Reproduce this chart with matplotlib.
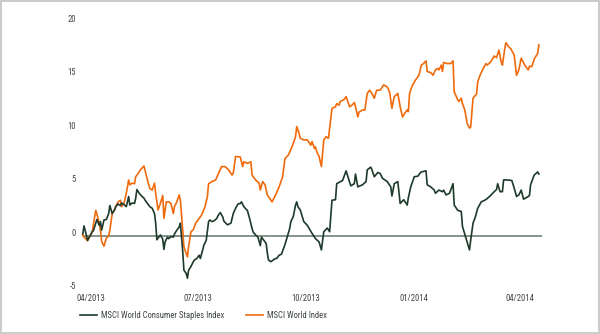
import matplotlib.pyplot as plt
import matplotlib.transforms as mtransforms
from matplotlib import font_manager as fm
import pandas as pd
from matplotlib.patches import Rectangle

# Performance (%) since late March 2013
# days are offsets from 2013-04-01
base = pd.Timestamp("2013-04-01")

staples_days = [
    -7, -6, -4, -3, -1, 1, 2, 4, 5, 7,
    8, 9, 11, 13, 15, 16, 18, 20, 21, 23,
    25, 26, 28, 30, 32, 33, 35, 37, 38, 39,
    41, 43, 45, 46, 48, 50, 52, 54, 55, 56,
    58, 59, 61, 62, 63, 65, 66, 68, 70, 71,
    73, 75, 76, 78, 79, 81, 82, 83, 85, 87,
    88, 90, 92, 93, 95, 96, 98, 100, 101, 103,
    105, 107, 108, 110, 112, 113, 116, 119, 121, 123,
    125, 127, 128, 130, 132, 133, 135, 137, 138, 140,
    142, 144, 145, 147, 149, 150, 151, 153, 155, 157,
    158, 160, 162, 163, 165, 167, 169, 170, 172, 174,
    175, 176, 178, 181, 184, 188, 191, 194, 196, 198,
    201, 203, 205, 208, 209, 214, 217, 221, 224, 225,
    227, 231, 234, 235, 238, 239, 241, 244, 246, 248,
    252, 255, 256, 258, 261, 263, 266, 269, 270, 272,
    275, 278, 280, 281, 285, 286, 289, 292, 293, 296,
    299, 300, 302, 305, 308, 309, 312, 315, 316, 319,
    322, 323, 325, 327, 329, 332, 335, 337, 340, 343,
    345, 346, 348, 350, 351, 354, 358, 360, 362, 364,
    366, 368, 372, 373, 374, 377, 380, 381,
]
staples = [
    0.2, 0.95, 0.1, -0.4, 0.0, 0.4, 0.5, 1.2, 1.55, 1.0,
    1.35, 0.55, 1.5, 1.55, 2.1, 2.85, 2.1, 2.45, 2.75, 3.0,
    2.85, 3.1, 2.95, 2.75, 3.7, 2.9, 3.1, 3.05, 3.55, 4.35,
    4.0, 3.75, 3.55, 3.35, 3.05, 2.75, 2.6, 2.1, 1.2, -0.35,
    -0.05, 0.1, -0.3, -1.25, -0.55, -0.1, -0.25, -0.05, -0.1, 0.2,
    0.55, 0.85, 1.2, -1.45, -3.2, -3.5, -3.95, -3.2, -2.85, -2.4,
    -2.25, -2.1, -1.8, -2.1, -1.3, -0.85, -0.4, 1.35, 1.5, 1.35,
    1.45, 1.65, 1.9, 2.2, 1.8, 1.4, 1.05, 1.2, 2.1, 2.6,
    3.0, 3.05, 3.2, 2.75, 2.5, 2.4, 1.6, 0.7, 0.35, 0.1,
    -0.1, -0.9, -0.1, -0.4, -0.7, -1.6, -2.25, -2.4, -2.25, -2.1,
    -2.1, -1.8, -1.7, -1.4, -0.8, -0.05, 0.7, 1.35, 1.8, 2.9,
    3.2, 2.75, 2.45, 1.35, 1.0, 0.25, -0.25, -0.55, -1.3, 0.4,
    0.75, 0.4, 3.35, 3.4, 4.9, 5.2, 6.1, 4.7, 4.9, 5.8,
    4.6, 4.8, 5.1, 6.2, 6.45, 6.2, 5.55, 5.95, 5.85, 5.4,
    5.1, 4.6, 3.75, 4.9, 5.1, 3.05, 3.4, 2.9, 3.6, 4.6,
    5.55, 5.6, 5.9, 6.0, 6.1, 4.8, 4.6, 4.3, 4.0, 4.3,
    4.15, 4.3, 3.85, 4.0, 4.9, 2.9, 2.4, 2.3, 0.9, -0.2,
    -1.3, -0.4, 1.2, 1.8, 2.6, 3.2, 3.35, 3.5, 3.8, 4.15,
    4.35, 4.9, 4.15, 4.15, 5.25, 5.25, 5.2, 4.5, 3.7, 3.85,
    4.3, 3.45, 3.7, 3.8, 4.8, 5.7, 6.0, 5.8,
]

world_days = [
    -7, -6, -4, -3, -1, 1, 4, 5, 7, 8,
    9, 11, 13, 15, 16, 18, 20, 21, 23, 25,
    26, 28, 30, 32, 33, 35, 37, 38, 40, 42,
    45, 48, 50, 52, 54, 55, 57, 59, 61, 62,
    64, 66, 68, 70, 71, 73, 75, 76, 78, 79,
    82, 83, 85, 87, 89, 92, 94, 97, 99, 100,
    103, 106, 109, 111, 114, 117, 120, 121, 123, 127,
    128, 129, 130, 133, 136, 137, 140, 143, 144, 146,
    148, 150, 153, 154, 157, 160, 163, 165, 168, 171,
    174, 175, 177, 178, 181, 184, 187, 188, 190, 191,
    192, 194, 196, 198, 200, 202, 205, 208, 209, 211,
    212, 215, 217, 220, 222, 224, 225, 227, 228, 231,
    233, 235, 237, 239, 241, 243, 246, 249, 252, 254,
    255, 256, 258, 261, 263, 265, 267, 269, 270, 271,
    273, 276, 279, 281, 283, 285, 286, 289, 291, 293,
    295, 296, 298, 299, 300, 303, 306, 308, 309, 312,
    313, 315, 316, 318, 320, 322, 323, 325, 328, 329,
    331, 333, 336, 337, 340, 343, 345, 347, 349, 350,
    352, 353, 355, 357, 360, 362, 364, 366, 369, 372,
    373, 375, 377, 380, 381,
]
world = [
    0.1, -0.1, -0.3, -0.45, -0.05, 0.4, 2.4, 2.05, 1.2, 0.55,
    -0.5, -0.95, -0.2, 0.0, 0.55, 2.1, 2.45, 2.75, 3.2, 3.35,
    2.75, 3.05, 4.0, 5.25, 4.8, 4.95, 4.9, 5.55, 5.85, 6.2,
    6.55, 5.25, 4.45, 4.3, 4.95, 4.0, 2.45, 3.05, 3.8, 1.65,
    3.2, 3.2, 3.05, 2.1, 2.75, 3.2, 3.85, 3.35, 0.55, -1.0,
    -1.95, -1.0, 0.4, 0.6, 1.2, 1.65, 1.95, 2.75, 3.7, 4.9,
    5.1, 5.25, 6.0, 6.5, 6.5, 6.2, 5.7, 5.9, 7.45, 7.4,
    6.95, 6.5, 6.95, 6.8, 6.95, 5.7, 5.25, 4.95, 4.3, 5.1,
    4.8, 3.85, 3.35, 3.2, 3.85, 4.6, 5.55, 7.25, 7.6, 8.35,
    9.3, 10.25, 9.6, 9.15, 9.0, 9.0, 8.5, 8.85, 8.2, 8.35,
    7.9, 7.45, 6.5, 9.0, 9.3, 9.15, 11.95, 12.1, 12.4, 12.25,
    12.6, 12.75, 13.05, 12.1, 12.25, 12.5, 12.1, 11.15, 11.6, 11.8,
    11.8, 13.35, 13.65, 13.35, 12.9, 13.65, 13.65, 14.15, 13.95, 13.5,
    12.75, 11.95, 13.05, 13.35, 12.1, 11.15, 11.5, 11.8, 11.65, 13.35,
    14.0, 14.6, 15.05, 16.0, 16.15, 16.4, 15.4, 15.3, 15.05, 15.55,
    15.7, 15.55, 16.0, 15.4, 16.25, 16.15, 16.15, 16.4, 13.5, 12.75,
    12.6, 12.9, 12.4, 11.8, 10.55, 10.1, 10.2, 12.9, 13.3, 14.45,
    15.05, 15.55, 16.15, 16.0, 16.3, 16.85, 16.7, 17.4, 16.3, 16.0,
    17.55, 18.1, 17.75, 17.55, 16.95, 15.05, 15.55, 16.65, 16.0, 15.55,
    15.9, 15.85, 16.55, 17.1, 17.9,
]

tick_dates = ["2013-04-01", "2013-07-01", "2013-10-01", "2014-01-01", "2014-04-01"]
tick_labels = ["04/2013", "07/2013", "10/2013", "01/2014", "04/2014"]
y_ticks = [-5, 0, 5, 10, 15, 20]

labels = ["MSCI World Consumer Staples Index", "MSCI World Index"]
green = "#1d3a2a"
orange = "#f06a0c"
text_col = "#3f4642"

# the original uses a condensed typeface; take a narrow one if there is one
fpath = None
for want in ["Roboto Condensed", "Liberation Sans Narrow", "Open Sans Condensed"]:
    for f in fm.fontManager.ttflist:
        if f.name == want and f.weight in (400, "normal", "regular") and f.style == "normal":
            fpath = f.fname
            break
    if fpath:
        break

fsize = 6.2
if fpath:
    fp = fm.FontProperties(fname=fpath, size=fsize)
else:
    fp = fm.FontProperties(family="DejaVu Sans", stretch="condensed", size=fsize)
fs_px = fsize * 100 / 72

W, H = 600, 334
fig = plt.figure(figsize=(W / 100, H / 100), dpi=100)

# axes box in pixels: left 80, right 560, top 10, bottom 292
ax = fig.add_axes([80 / W, (H - 292) / H, 480 / W, 282 / H])

staples_x = base + pd.to_timedelta(staples_days, unit="D")
world_x = base + pd.to_timedelta(world_days, unit="D")

ax.hlines(0, staples_x[0], base + pd.Timedelta(days=384), color="#7d8a85", lw=1.3, zorder=1)
l1, = ax.plot(staples_x, staples, color=green, lw=1.2, zorder=3)
l2, = ax.plot(world_x, world, color=orange, lw=1.2, zorder=2)

ax.set_xlim(base - pd.Timedelta(days=9.4), base + pd.Timedelta(days=399))
ax.set_ylim(-5.24, 21.16)

ax.set_xticks(pd.to_datetime(tick_dates))
ax.set_xticklabels(tick_labels, fontproperties=fp)
ax.set_yticks(y_ticks)
ax.set_yticklabels([str(v) for v in y_ticks], fontproperties=fp)
ax.tick_params(length=0, labelcolor=text_col)
ax.tick_params(axis="y", pad=3)
ax.tick_params(axis="x", pad=1.2)
for s in ax.spines.values():
    s.set_visible(False)

# y labels sit a few pixels above their value
shift = mtransforms.ScaledTranslation(0, 4 / 100, fig.dpi_scale_trans)
for lab in ax.get_yticklabels():
    lab.set_transform(lab.get_transform() + shift)

fig.legend([l1, l2], labels, loc="center left", bbox_to_anchor=(80 / W, (H - 316) / H),
           ncol=2, frameon=False, prop=fp, labelcolor=text_col,
           handlelength=17 / fs_px, handletextpad=4 / fs_px, columnspacing=22 / fs_px,
           borderpad=0, borderaxespad=0)

fig.patches.append(Rectangle((0, 0), 1, 1, transform=fig.transFigure, fill=False,
                             edgecolor="#cccccc", lw=2.9))

fig.savefig("out.png", dpi=100)
